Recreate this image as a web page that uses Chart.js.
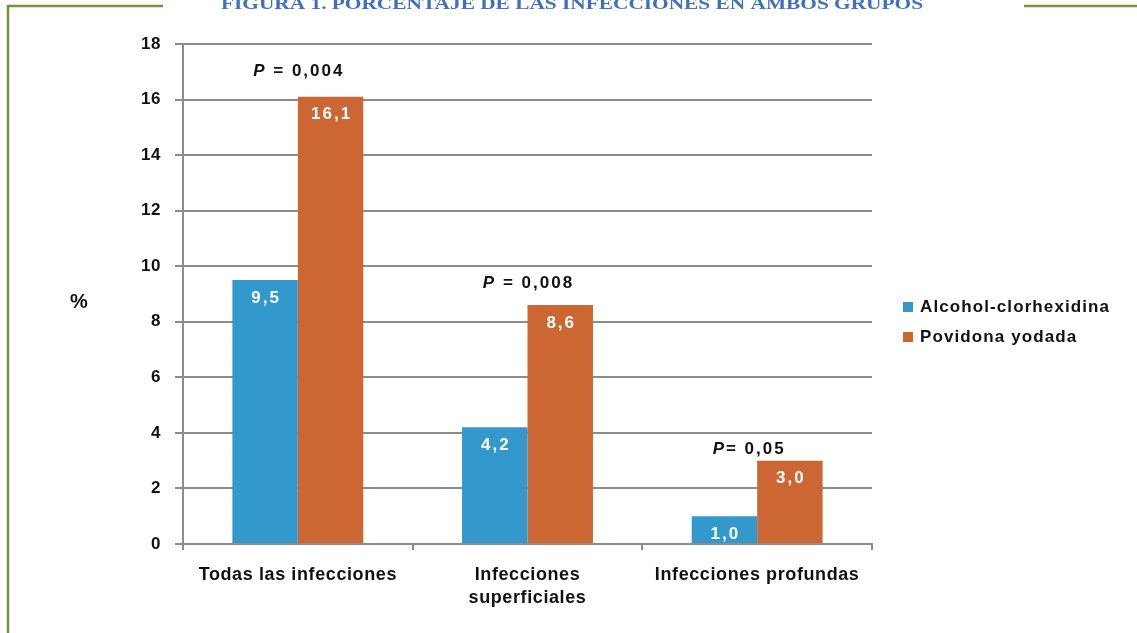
<!DOCTYPE html>
<html><head><meta charset="utf-8">
<script src="https://cdn.jsdelivr.net/npm/chart.js@4/dist/chart.umd.min.js"></script>
<style>html,body{margin:0;padding:0;background:#fff;}#wrap{position:relative;width:1137px;height:633px;}canvas{position:absolute;left:0;top:0;}</style>
</head><body><div id="wrap"><canvas id="c" width="1137" height="633"></canvas></div>
<script>
const categories = [["Todas las infecciones"], ["Infecciones", "superficiales"], ["Infecciones profundas"]];
const seriesNames = ["Alcohol-clorhexidina", "Povidona yodada"];
const alcohol = [9.5, 4.2, 1.0];
const povidona = [16.1, 8.6, 3.0];
const valueLabels = [["9,5", "4,2", "1,0"], ["16,1", "8,6", "3,0"]];
const pValues = ["P = 0,004", "P = 0,008", "P= 0,05"];
const yTicks = [0, 2, 4, 6, 8, 10, 12, 14, 16, 18];
const titleText = "FIGURA 1. PORCENTAJE DE LAS INFECCIONES EN AMBOS GRUPOS";
const colors = ["#3399cc", "#cc6633"];
const FONT = "'Liberation Sans', Arial, sans-serif";

const decor = {
  id: 'decor',
  beforeDraw(chart) {
    const ctx = chart.ctx;
    ctx.save();
    ctx.fillStyle = '#fff';
    ctx.fillRect(0, 0, chart.width, chart.height);
    ctx.strokeStyle = '#77933c';
    ctx.lineWidth = 2.5;
    ctx.beginPath();
    ctx.moveTo(8, 6); ctx.lineTo(163, 6);
    ctx.moveTo(1024, 6); ctx.lineTo(1137, 6);
    ctx.moveTo(8, 5); ctx.lineTo(8, 633);
    ctx.stroke();
    // title
    ctx.font = "bold 17px 'Liberation Serif', 'Times New Roman', serif";
    ctx.fillStyle = '#3f6fc0';
    ctx.textBaseline = 'alphabetic';
    ctx.letterSpacing = '0px';
    const w = ctx.measureText(titleText).width;
    const target = 702;
    ctx.translate(221, 9);
    ctx.scale(target / w, 1);
    ctx.fillText(titleText, 0, 0);
    ctx.restore();
    ctx.letterSpacing = '0.6px';
  },
  afterDraw(chart) {
    const ctx = chart.ctx;
    ctx.save();
    // value labels
    ctx.fillStyle = '#fff';
    ctx.font = 'bold 17px ' + FONT;
    ctx.letterSpacing = '2px';
    ctx.textAlign = 'left';
    ctx.textBaseline = 'middle';
    [0, 1].forEach(di => {
      chart.getDatasetMeta(di).data.forEach((bar, i) => {
        const t = valueLabels[di][i];
        const tw = ctx.measureText(t).width - 2;
        ctx.fillText(t, bar.x - tw / 2, bar.y + 18);
      });
    });
    // p values
    const offs = [25, 22, 11];
    const dx = [0, 0, -9];
    ctx.fillStyle = '#111';
    ctx.letterSpacing = '2px';
    const xs = chart.scales.x;
    chart.getDatasetMeta(1).data.forEach((bar, i) => {
      const cx = xs.getPixelForValue(i) + dx[i];
      const y = bar.y - offs[i];
      const txt = pValues[i];
      const pPart = 'P';
      const rest = txt.slice(1);
      ctx.font = 'italic bold 17px ' + FONT;
      const wp = ctx.measureText(pPart).width;
      ctx.font = 'bold 17px ' + FONT;
      const wr = ctx.measureText(rest).width - 2;
      const x0 = cx - (wp + wr) / 2;
      ctx.textAlign = 'left';
      ctx.font = 'italic bold 17px ' + FONT;
      ctx.fillText(pPart, x0, y);
      ctx.font = 'bold 17px ' + FONT;
      ctx.fillText(rest, x0 + wp, y);
    });
    // % label
    ctx.letterSpacing = '0px';
    ctx.textAlign = 'center';
    ctx.font = 'bold 20px ' + FONT;
    ctx.fillText('%', 79, 302);
    // legend
    ctx.font = 'bold 17px ' + FONT;
    ctx.letterSpacing = '1.1px';
    ctx.textAlign = 'left';
    seriesNames.forEach((n, i) => {
      const y = 307 + i * 30;
      ctx.fillStyle = colors[i];
      ctx.fillRect(903, y - 5, 10, 10);
      ctx.fillStyle = '#111';
      ctx.fillText(n, 920, y);
    });
    ctx.restore();
  }
};

new Chart(document.getElementById('c'), {
  type: 'bar',
  data: {
    labels: categories,
    datasets: [
      { label: seriesNames[0], data: alcohol, backgroundColor: colors[0], categoryPercentage: 0.57, barPercentage: 1.0 },
      { label: seriesNames[1], data: povidona, backgroundColor: colors[1], categoryPercentage: 0.57, barPercentage: 1.0 }
    ]
  },
  options: {
    responsive: false,
    animation: false,
    devicePixelRatio: 1,
    layout: { padding: { left: 0, right: 265, top: 44, bottom: 0 } },
    plugins: { legend: { display: false }, tooltip: { enabled: false } },
    scales: {
      y: {
        min: 0, max: 18,
        afterFit(s) { s.width = 183; },
        afterBuildTicks(s) { s.ticks = yTicks.map(v => ({ value: v })); },
        ticks: { font: { family: FONT, size: 17, weight: 'bold' }, color: '#111', padding: 14, callback: v => String(v) },
        grid: { color: '#8c8c8c', lineWidth: 2, tickLength: 8 },
        border: { color: '#8c8c8c', width: 2 }
      },
      x: {
        afterFit(s) { s.height = 89; },
        ticks: { font: { family: FONT, size: 18, weight: 'bold', lineHeight: 1.3 }, color: '#111', padding: 13, maxRotation: 0, autoSkip: false },
        grid: { drawOnChartArea: false, drawTicks: true, tickLength: 6, color: '#8c8c8c', lineWidth: 2, offset: true },
        border: { color: '#8c8c8c', width: 2 }
      }
    }
  },
  plugins: [decor]
});
</script>
</body></html>
